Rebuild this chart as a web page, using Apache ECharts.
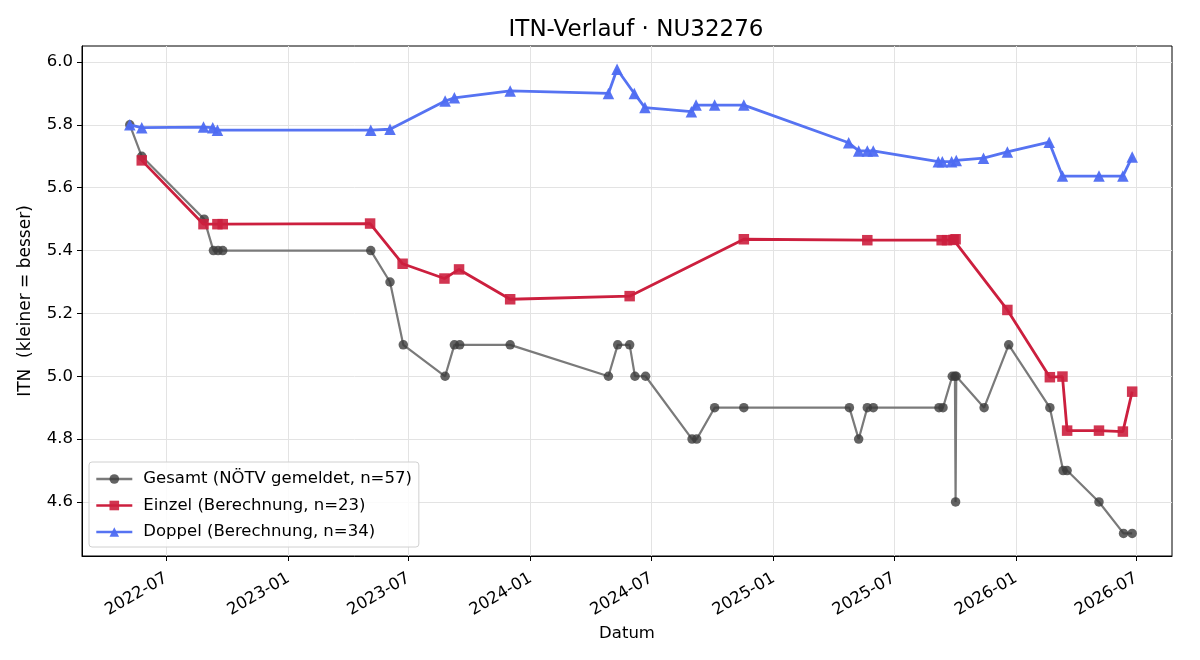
<!DOCTYPE html>
<html>
<head>
<meta charset="utf-8">
<script src="https://cdn.jsdelivr.net/npm/echarts@6/dist/echarts.min.js"></script>
<style>
  html, body { margin: 0; padding: 0; background: #fff; }
  #chart { width: 1200px; height: 660px; }
</style>
</head>
<body>
<div id="chart"></div>
<script>
// Gesamt (NÖTV gemeldet)
var gesamtDates = ['2022-05-07','2022-05-25','2022-08-27','2022-09-10','2022-09-17','2022-09-24',
    '2023-05-05','2023-06-03','2023-06-23','2023-08-25','2023-09-08','2023-09-16','2023-12-01',
    '2024-04-27','2024-05-11','2024-05-29','2024-06-06','2024-06-22','2024-08-31','2024-09-07',
    '2024-10-04','2024-11-17','2025-04-25','2025-05-09','2025-05-22','2025-05-31','2025-09-07',
    '2025-09-13','2025-09-27','2025-10-01','2025-10-02','2025-10-03','2025-11-14','2025-12-21',
    '2026-02-21','2026-03-13','2026-03-19','2026-05-06','2026-06-12','2026-06-25'];
var gesamtValues = [5.8, 5.7, 5.5, 5.4, 5.4, 5.4,
    5.4, 5.3, 5.1, 5.0, 5.1, 5.1, 5.1,
    5.0, 5.1, 5.1, 5.0, 5.0, 4.8, 4.8,
    4.9, 4.9, 4.9, 4.8, 4.9, 4.9, 4.9,
    4.9, 5.0, 5.0, 4.6, 5.0, 4.9, 5.1,
    4.9, 4.7, 4.7, 4.6, 4.5, 4.5];

// Einzel (Berechnung)
var einzelDates = ['2022-05-25','2022-08-26','2022-09-16','2022-09-24','2023-05-04','2023-06-22',
    '2023-08-24','2023-09-15','2023-12-01','2024-05-29','2024-11-17','2025-05-22','2025-09-11',
    '2025-09-19','2025-09-29','2025-10-02','2025-12-19','2026-02-21','2026-03-12','2026-03-19',
    '2026-05-06','2026-06-11','2026-06-25'];
var einzelValues = [5.687, 5.484, 5.484, 5.484, 5.486, 5.358,
    5.311, 5.340, 5.245, 5.255, 5.436, 5.433, 5.433,
    5.433, 5.434, 5.436, 5.211, 4.997, 4.999, 4.827,
    4.827, 4.824, 4.951];

// Doppel (Berechnung)
var doppelDates = ['2022-05-07','2022-05-25','2022-08-26','2022-09-09','2022-09-16','2023-05-05',
    '2023-06-03','2023-08-25','2023-09-08','2023-12-01','2024-04-27','2024-05-10','2024-06-05',
    '2024-06-21','2024-08-30','2024-09-06','2024-10-04','2024-11-17','2025-04-24','2025-05-09',
    '2025-05-22','2025-05-31','2025-09-06','2025-09-12','2025-09-26','2025-10-03','2025-11-13',
    '2025-12-19','2026-02-20','2026-03-12','2026-05-06','2026-06-11','2026-06-25'];
var doppelValues = [5.800, 5.791, 5.793, 5.791, 5.783, 5.783,
    5.786, 5.876, 5.886, 5.908, 5.900, 5.977, 5.900,
    5.855, 5.842, 5.863, 5.863, 5.863, 5.743, 5.717,
    5.717, 5.717, 5.683, 5.683, 5.683, 5.687, 5.694,
    5.714, 5.745, 5.637, 5.637, 5.637, 5.698];

var xTicks = ['2022-07-01','2023-01-01','2023-07-01','2024-01-01','2024-07-01',
    '2025-01-01','2025-07-01','2026-01-01','2026-07-01'];
var yTicks = [4.6, 4.8, 5.0, 5.2, 5.4, 5.6, 5.8, 6.0];

function ts(d) { return Date.UTC(+d.slice(0, 4), +d.slice(5, 7) - 1, +d.slice(8, 10)); }
function toPairs(dates, values) {
    return dates.map(function (d, i) { return [ts(d), values[i]]; });
}
var xTickTimes = xTicks.map(ts);

var chart = echarts.init(document.getElementById('chart'));
var font = 'DejaVu Sans';

chart.setOption({
    animation: false,
    textStyle: { fontFamily: font },
    title: {
        text: 'ITN-Verlauf · NU32276',
        left: 631, top: 14, textAlign: 'center',
        textStyle: { fontFamily: font, fontSize: 23, fontWeight: 'normal', color: '#000' }
    },
    grid: {
        left: 82, right: 28, top: 46, bottom: 104,
        show: true, borderColor: '#000', borderWidth: 1, backgroundColor: 'transparent'
    },
    legend: {
        orient: 'vertical',
        left: 89, top: 462,
        backgroundColor: 'rgba(255,255,255,0.85)',
        borderColor: '#d0d0d0', borderWidth: 1, borderRadius: 3,
        padding: [7, 7, 5, 6],
        itemGap: 6.5, itemWidth: 36, itemHeight: 12,
        lineStyle: { width: 2.6 },
        textStyle: { fontFamily: font, fontSize: 16.5, lineHeight: 20, color: '#000', padding: [0, 0, 0, 6] },
        data: ['Gesamt (NÖTV gemeldet, n=57)', 'Einzel (Berechnung, n=23)', 'Doppel (Berechnung, n=34)']
    },
    xAxis: {
        type: 'value',
        min: ts('2022-02-24'), max: ts('2026-08-24'),
        name: 'Datum', nameLocation: 'middle', nameGap: 67,
        nameTextStyle: { fontFamily: font, fontSize: 16.5, color: '#000' },
        axisLine: { lineStyle: { color: '#000' } },
        axisTick: { show: true, length: 5, customValues: xTickTimes, lineStyle: { color: '#000' } },
        axisLabel: {
            customValues: xTickTimes, rotate: 30, fontSize: 16.5, color: '#000', fontFamily: font,
            margin: 21,
            formatter: function (v) {
                var d = new Date(v);
                var m = d.getUTCMonth() + 1;
                return d.getUTCFullYear() + '-' + (m < 10 ? '0' + m : m);
            }
        },
        splitLine: { show: true, lineStyle: { color: '#e3e3e3', width: 1 } }
    },
    yAxis: {
        type: 'value',
        min: 4.428, max: 6.051,
        name: 'ITN  (kleiner = besser)', nameLocation: 'middle', nameGap: 48,
        nameTextStyle: { fontFamily: font, fontSize: 17, color: '#000' },
        axisLine: { show: true, lineStyle: { color: '#000' } },
        axisTick: { show: true, length: 5, customValues: yTicks, lineStyle: { color: '#000' } },
        axisLabel: {
            customValues: yTicks, fontSize: 16.5, color: '#000', fontFamily: font, margin: 9,
            formatter: function (v) { return v.toFixed(1); }
        },
        splitLine: { show: true, lineStyle: { color: '#e3e3e3', width: 1 } }
    },
    series: [{
        name: 'Gesamt (NÖTV gemeldet, n=57)',
        type: 'line',
        data: toPairs(gesamtDates, gesamtValues),
        symbol: 'circle', symbolSize: 9.5,
        lineStyle: { color: '#7a7a7a', width: 2.2 },
        itemStyle: { color: 'rgba(60,60,60,0.8)', borderWidth: 0 },
        z: 2
    }, {
        name: 'Einzel (Berechnung, n=23)',
        type: 'line',
        data: toPairs(einzelDates, einzelValues),
        symbol: 'rect', symbolSize: 10.5,
        lineStyle: { color: '#cc1f3e', width: 2.8 },
        itemStyle: { color: 'rgba(204,31,62,0.9)', borderWidth: 0 },
        z: 3
    }, {
        name: 'Doppel (Berechnung, n=34)',
        type: 'line',
        data: toPairs(doppelDates, doppelValues),
        symbol: 'triangle', symbolSize: 11.5,
        lineStyle: { color: '#5673f2', width: 2.8 },
        itemStyle: { color: 'rgba(78,108,242,0.95)', borderWidth: 0 },
        z: 4
    }]
});
</script>
</body>
</html>
